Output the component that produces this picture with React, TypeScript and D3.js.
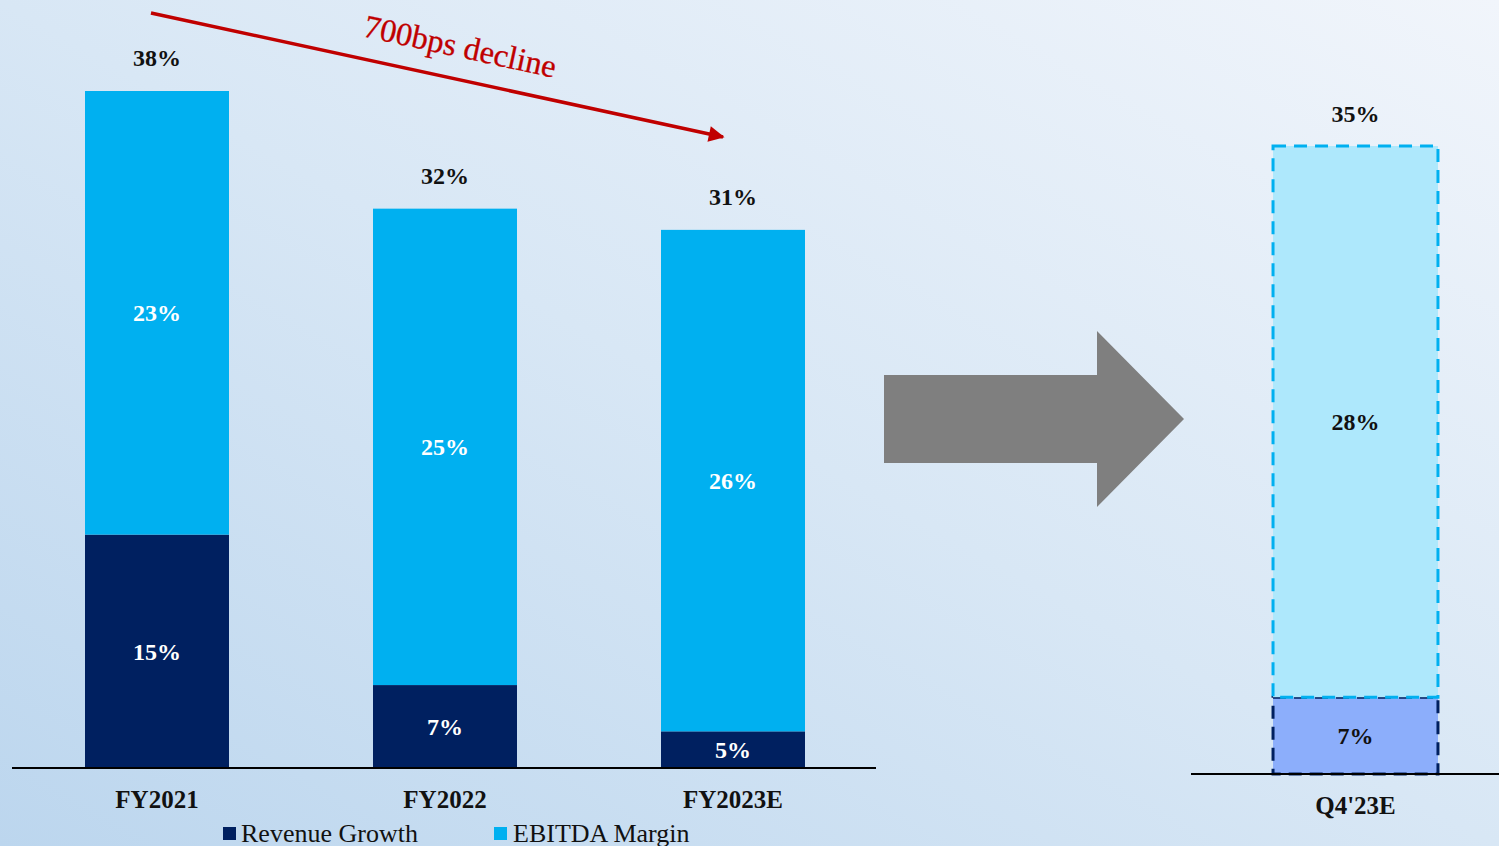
import React from "react";
import * as d3 from "d3";

const categories = ["FY2021", "FY2022", "FY2023E"];
const revenueGrowth = [15.0, 7.2, 4.8];
const ebitdaMargin = [23.0, 24.7, 26.0];

const forecastCategory = ["Q4'23E"];
const forecastRevenue = [7.0];
const forecastEbitda = [28.0];

const legendLabels = ["Revenue Growth", "EBITDA Margin"];
const annotationText = "700bps decline";

const W = 1499;
const H = 846;
const NAVY = "#002060";
const CYAN = "#00b0f0";
const LIGHT_CYAN = "#aee8fc";
const PERIWINKLE = "#8caefb";
const FONT = "'Liberation Serif', 'Times New Roman', serif";

const pct = (v: number) => `${Math.round(v)}%`;

export default function App() {
  // left chart scales
  const xL = d3.scaleBand<string>().domain(categories).range([13, 877]).paddingInner(0.5).paddingOuter(0.25);
  const yL = d3.scaleLinear().domain([2.9, 38]).range([768, 91]);
  // right chart scales
  const xR = d3.scaleBand<string>().domain(forecastCategory).range([1212, 1499]).paddingOuter(0.37);
  const yR = d3.scaleLinear().domain([3.1, 35]).range([774, 146]);

  const leftBase = yL.range()[0];
  const rightBase = yR.range()[0];

  // red trend arrow
  const a0 = [151, 13];
  const a1 = [727, 138];
  const ang = (Math.atan2(a1[1] - a0[1], a1[0] - a0[0]) * 180) / Math.PI;

  // gray arrow shape
  const gx0 = 884, gx1 = 1097, gTip = 1184, gyMid = 419, gBodyH = 44, gHeadH = 88;
  const grayArrow = d3.line()([
    [gx0, gyMid - gBodyH],
    [gx1, gyMid - gBodyH],
    [gx1, gyMid - gHeadH],
    [gTip, gyMid],
    [gx1, gyMid + gHeadH],
    [gx1, gyMid + gBodyH],
    [gx0, gyMid + gBodyH],
  ]) + "Z";

  return (
    <svg
      width={W}
      height={H}
      style={{ position: "absolute", left: 0, top: 0, display: "block" }}
      fontFamily={FONT}
    >
      <defs>
        <linearGradient id="bg" x1="0" y1="1" x2="1" y2="0">
          <stop offset="0" stopColor="#bcd6ee" />
          <stop offset="0.5" stopColor="#d8e7f5" />
          <stop offset="1" stopColor="#f1f5fb" />
        </linearGradient>
        <marker id="redHead" viewBox="0 0 10 10" refX="9" refY="5" markerWidth="5" markerHeight="4.5" orient="auto" markerUnits="strokeWidth">
          <path d="M0,0 L10,5 L0,10 Z" fill="#c00000" />
        </marker>
      </defs>
      <rect x={0} y={0} width={W} height={H} fill="url(#bg)" />

      {/* left stacked bars */}
      {categories.map((c, i) => {
        const x = xL(c)!;
        const bw = xL.bandwidth();
        const cx = x + bw / 2;
        const rev = revenueGrowth[i];
        const tot = rev + ebitdaMargin[i];
        return (
          <g key={c}>
            <rect x={x} y={yL(rev)} width={bw} height={leftBase - yL(rev)} fill={NAVY} />
            <rect x={x} y={yL(tot)} width={bw} height={yL(rev) - yL(tot)} fill={CYAN} />
            <text x={cx} y={(yL(rev) + leftBase) / 2} dy="0.35em" textAnchor="middle" fontSize={24} fontWeight="bold" fill="#fff">
              {pct(rev)}
            </text>
            <text x={cx} y={(yL(rev) + yL(tot)) / 2} dy="0.35em" textAnchor="middle" fontSize={24} fontWeight="bold" fill="#fff">
              {pct(ebitdaMargin[i])}
            </text>
            <text x={cx} y={yL(tot) - 25} textAnchor="middle" fontSize={24} fontWeight="bold" fill="#111">
              {pct(tot)}
            </text>
            <text x={cx} y={leftBase + 40} textAnchor="middle" fontSize={25} fontWeight="bold" fill="#111">
              {c}
            </text>
          </g>
        );
      })}
      <line x1={12} x2={876} y1={leftBase} y2={leftBase} stroke="#000" strokeWidth={2} />

      {/* legend */}
      <g>
        <rect x={223} y={827} width={13} height={13} fill={NAVY} />
        <text x={241} y={842} fontSize={26} fill="#111">{legendLabels[0]}</text>
        <rect x={494} y={827} width={13} height={13} fill={CYAN} />
        <text x={513} y={842} fontSize={26} fill="#111">{legendLabels[1]}</text>
      </g>

      {/* red trend arrow */}
      <line x1={a0[0]} y1={a0[1]} x2={a1[0] - 4} y2={a1[1] - 1} stroke="#c00000" strokeWidth={3.5} markerEnd="url(#redHead)" />
      <text
        transform={`translate(458,57) rotate(${ang})`}
        textAnchor="middle"
        fontSize={32.5}
        fill="#c00000"
        stroke="#c00000"
        strokeWidth={0.3}
      >
        {annotationText}
      </text>

      {/* gray arrow */}
      <path d={grayArrow} fill="#7f7f7f" />

      {/* right forecast bar */}
      {forecastCategory.map((c, i) => {
        const x = xR(c)!;
        const bw = xR.bandwidth();
        const cx = x + bw / 2;
        const rev = forecastRevenue[i];
        const tot = rev + forecastEbitda[i];
        return (
          <g key={c}>
            <rect x={x} y={yR(rev)} width={bw} height={rightBase - yR(rev)} fill={PERIWINKLE} stroke={NAVY} strokeWidth={3} strokeDasharray="13 8" />
            <rect x={x} y={yR(tot)} width={bw} height={yR(rev) - yR(tot)} fill={LIGHT_CYAN} stroke={CYAN} strokeWidth={3} strokeDasharray="13 8" />
            <text x={cx} y={(yR(rev) + rightBase) / 2} dy="0.35em" textAnchor="middle" fontSize={24} fontWeight="bold" fill="#111">
              {pct(rev)}
            </text>
            <text x={cx} y={(yR(rev) + yR(tot)) / 2} dy="0.35em" textAnchor="middle" fontSize={24} fontWeight="bold" fill="#111">
              {pct(forecastEbitda[i])}
            </text>
            <text x={cx} y={yR(tot) - 24} textAnchor="middle" fontSize={24} fontWeight="bold" fill="#111">
              {pct(tot)}
            </text>
            <text x={cx} y={rightBase + 40} textAnchor="middle" fontSize={25} fontWeight="bold" fill="#111">
              {c}
            </text>
          </g>
        );
      })}
      <line x1={1191} x2={1499} y1={rightBase} y2={rightBase} stroke="#000" strokeWidth={2} />
    </svg>
  );
}
